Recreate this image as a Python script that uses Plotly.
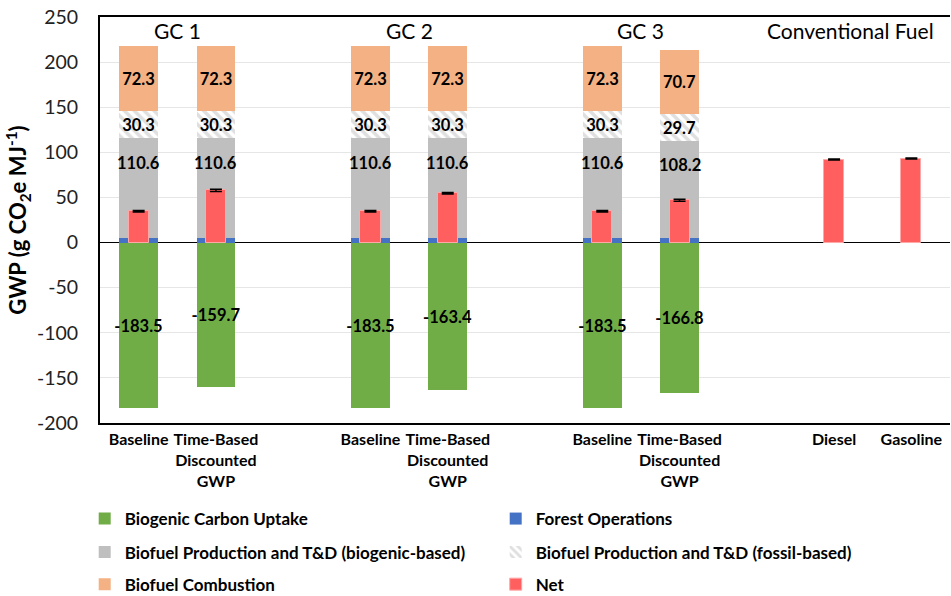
import plotly.graph_objects as go

# ---------------- data ----------------
cat_ids = ["GC1 Baseline", "GC1 TBD", "gap1", "GC2 Baseline", "GC2 TBD", "gap2",
           "GC3 Baseline", "GC3 TBD", "gap3", "Diesel", "Gasoline"]
tick_ids = ["GC1 Baseline", "GC1 TBD", "GC2 Baseline", "GC2 TBD",
            "GC3 Baseline", "GC3 TBD", "Diesel", "Gasoline"]
tick_labels = ["Baseline", "Time-Based<br>Discounted<br>GWP", "Baseline", "Time-Based<br>Discounted<br>GWP",
               "Baseline", "Time-Based<br>Discounted<br>GWP", "Diesel", "Gasoline"]
y_ticks = [-200, -150, -100, -50, 0, 50, 100, 150, 200, 250]

bar_cats = ["GC1 Baseline", "GC1 TBD", "GC2 Baseline", "GC2 TBD", "GC3 Baseline", "GC3 TBD"]
biogenic_uptake = [-183.5, -159.7, -183.5, -163.4, -183.5, -166.8]
forest_ops = [5.0, 4.8, 5.0, 4.8, 5.0, 4.9]
prod_biogenic = [110.6, 110.6, 110.6, 110.6, 110.6, 108.2]
prod_fossil = [30.3, 30.3, 30.3, 30.3, 30.3, 29.7]
combustion = [72.3, 72.3, 72.3, 72.3, 72.3, 70.7]

net_cats = ["GC1 Baseline", "GC1 TBD", "GC2 Baseline", "GC2 TBD", "GC3 Baseline", "GC3 TBD", "Diesel", "Gasoline"]
net_values = [34.7, 57.8, 34.7, 54.6, 34.7, 46.8, 92.0, 93.1]
net_err = [0.7, 1.3, 0.7, 0.8, 0.7, 1.1, 0.5, 0.5]

group_labels = ["GC 1", "GC 2", "GC 3"]
group_pos = [0.5, 3.5, 6.5]

# ---------------- style ----------------
FONT = "Lato, 'Open Sans', Arial, sans-serif"
C_GREEN = "#70AD47"
C_BLUE = "#4472C4"
C_GRAY = "#BFBFBF"
C_ORANGE = "#F4B183"
C_NET = "#FF5F5F"
W_STACK = 0.5
W_NET = 0.26
valfont = dict(family=FONT, size=16.5, color="black", weight="bold")

fig = go.Figure()

fig.add_trace(go.Bar(
    name="Biogenic Carbon Uptake", x=bar_cats, y=biogenic_uptake, width=W_STACK,
    marker=dict(color=C_GREEN, line=dict(width=0)),
    text=[f"{v:.1f}" for v in biogenic_uptake], textposition="inside",
    insidetextanchor="middle", constraintext="none", textangle=0,
    textfont=valfont, legend="legend", hoverinfo="skip"))

fig.add_trace(go.Bar(
    name="Forest Operations", x=bar_cats, y=forest_ops, width=W_STACK,
    marker=dict(color=C_BLUE, line=dict(width=0)),
    legend="legend", hoverinfo="skip"))

fig.add_trace(go.Bar(
    name="Biofuel Production and T&D (biogenic-based)", x=bar_cats, y=prod_biogenic, width=W_STACK,
    marker=dict(color=C_GRAY, line=dict(width=0)),
    legend="legend2", hoverinfo="skip"))

fig.add_trace(go.Bar(
    name="Biofuel Production and T&D (fossil-based)", x=bar_cats, y=prod_fossil, width=W_STACK,
    marker=dict(color="white", line=dict(width=0),
                pattern=dict(shape="\\", fgcolor=C_GRAY, bgcolor="white", size=7, solidity=0.5)),
    text=[f"{v:.1f}" for v in prod_fossil], textposition="inside",
    insidetextanchor="middle", constraintext="none", textangle=0,
    textfont=valfont, legend="legend2", hoverinfo="skip"))

fig.add_trace(go.Bar(
    name="Biofuel Combustion", x=bar_cats, y=combustion, width=W_STACK,
    marker=dict(color=C_ORANGE, line=dict(width=0)),
    text=[f"{v:.1f}" for v in combustion], textposition="inside",
    insidetextanchor="middle", constraintext="none", textangle=0,
    textfont=valfont, legend="legend3", hoverinfo="skip"))

fig.add_trace(go.Bar(
    name="Net", x=net_cats, y=net_values, width=W_NET, xaxis="x2",
    marker=dict(color=C_NET, line=dict(width=1, color="#FFA8A8")),
    error_y=dict(type="data", array=net_err, color="black", thickness=1.5, width=6),
    legend="legend3", hoverinfo="skip"))

# labels of the biogenic-based production segments (placed in upper part of the segment)
annotations = []
for c, f, g in zip(bar_cats, forest_ops, prod_biogenic):
    annotations.append(dict(x=c, y=f + 0.75 * g, xref="x", yref="y", text=f"{g:.1f}",
                            showarrow=False, font=valfont))

for lab, p in zip(group_labels, group_pos):
    annotations.append(dict(x=p, y=0.966, xref="x", yref="paper", text=lab, showarrow=False,
                            xanchor="center", yanchor="middle",
                            font=dict(family=FONT, size=21, color="black")))
annotations.append(dict(x=0.984, y=0.966, xref="paper", yref="paper", text="Conventional Fuel",
                        xanchor="right", yanchor="middle", showarrow=False,
                        font=dict(family=FONT, size=21, color="black")))

legend_common = dict(orientation="h", entrywidth=366, xanchor="left", yanchor="middle",
                     font=dict(family=FONT, size=17, color="black", weight="bold"),
                     bgcolor="rgba(0,0,0,0)", borderwidth=0, traceorder="normal")

fig.update_layout(
    width=951, height=596,
    margin=dict(l=100, r=1, t=17, b=173, autoexpand=False),
    paper_bgcolor="white", plot_bgcolor="white",
    barmode="relative", bargap=0,
    font=dict(family=FONT, color="black"),
    showlegend=True,
    legend=dict(x=-0.018, y=-0.2365, **legend_common),
    legend2=dict(x=-0.018, y=-0.319, **legend_common),
    legend3=dict(x=-0.018, y=-0.398, **legend_common),
    annotations=annotations,
    xaxis=dict(type="category", categoryorder="array", categoryarray=cat_ids,
               tickvals=tick_ids, ticktext=tick_labels, range=[-0.5, 10.5],
               showline=True, linecolor="black", linewidth=2, mirror=True,
               ticks="", showgrid=False, zeroline=False,
               tickfont=dict(family=FONT, size=16, color="black", weight="bold"),
               ticklabelstandoff=1),
    xaxis2=dict(type="category", categoryorder="array", categoryarray=cat_ids,
                range=[-0.5, 10.5], overlaying="x", visible=False),
    yaxis=dict(range=[-200, 250], tickvals=y_ticks, ticktext=[str(v) for v in y_ticks],
               showline=True, linecolor="black", linewidth=2,
               showgrid=True, gridcolor="#E6E6E6", gridwidth=1,
               zeroline=True, zerolinecolor="black", zerolinewidth=1,
               ticks="", ticklabelstandoff=16,
               tickfont=dict(family=FONT, size=19.5, color="#222222"),
               title=dict(text="GWP (g CO<sub>2</sub>e MJ<sup>-1</sup>)", standoff=4,
                          font=dict(family=FONT, size=22, color="black", weight="bold"))),
)

fig.write_html("out.html", config={"displayModeBar": False},
               post_script="document.body.style.margin='0';document.body.style.padding='0';"
                           "document.body.style.overflow='hidden';")
